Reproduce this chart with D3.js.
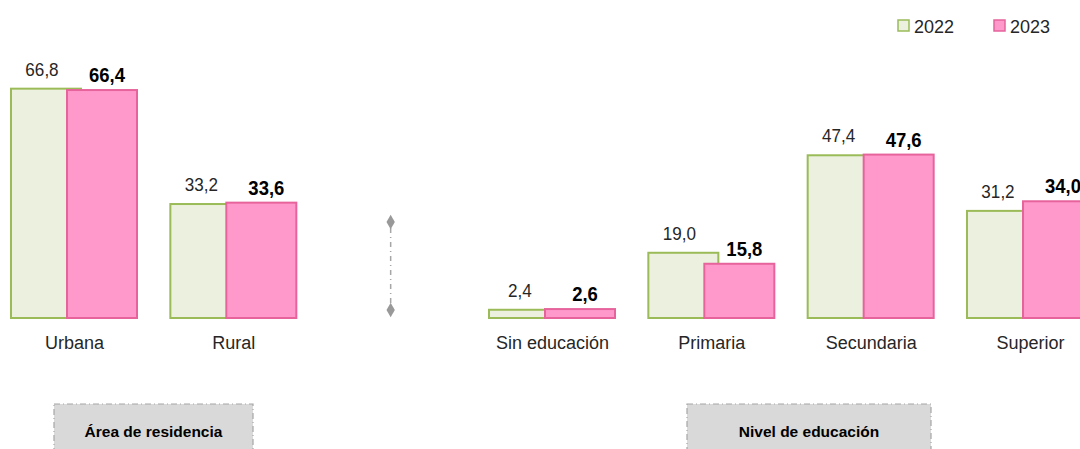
<!DOCTYPE html>
<html><head><meta charset="utf-8">
<script src="https://cdn.jsdelivr.net/npm/d3@7"></script>
<style>
html,body{margin:0;padding:0;background:#fff;}
svg{display:block;}
</style></head>
<body>
<svg id="chart" width="1080" height="449"></svg>
<script>
const categories = ["Urbana", "Rural", "Sin educación", "Primaria", "Secundaria", "Superior"];
const slots = ["Urbana", "Rural", "__sep__", "Sin educación", "Primaria", "Secundaria", "Superior"];
const values2022 = [66.8, 33.2, 2.4, 19.0, 47.4, 31.2];
const values2023 = [66.4, 33.6, 2.6, 15.8, 47.6, 34.0];
const seriesNames = ["2022", "2023"];
const groupLabels = ["Área de residencia", "Nivel de educación"];
const labelFmt = v => d3.format(".1f")(v).replace(".", ",");

const svg = d3.select("#chart");
const font = "'Liberation Sans Narrow','Arial Narrow','Liberation Sans',Arial,sans-serif";

const x = d3.scalePoint().domain(slots).range([74, 1030]);
const y = d3.scaleLinear().domain([0, 80]).range([318, 318 - 80 * 3.433]);

const barW = 70;
const c2022 = {fill: "#ebf1de", stroke: "#9bbb59"};
const c2023 = {fill: "#ff99cc", stroke: "#e6639c"};

const data = categories.map((c, i) => ({cat: c, v22: values2022[i], v23: values2023[i]}));

// 2022 bars (behind)
svg.append("g").selectAll("rect").data(data).join("rect")
  .attr("x", d => x(d.cat) - 63)
  .attr("y", d => y(d.v22))
  .attr("width", barW)
  .attr("height", d => y(0) - y(d.v22))
  .attr("fill", c2022.fill).attr("stroke", c2022.stroke).attr("stroke-width", 2);

// 2023 bars
svg.append("g").selectAll("rect").data(data).join("rect")
  .attr("x", d => x(d.cat) - 7)
  .attr("y", d => y(d.v23))
  .attr("width", barW)
  .attr("height", d => y(0) - y(d.v23))
  .attr("fill", c2023.fill).attr("stroke", c2023.stroke).attr("stroke-width", 2);

// value labels
svg.append("g").selectAll("text").data(data).join("text")
  .attr("transform", d => `translate(${x(d.cat) - 32},${y(d.v22) - 13}) scale(0.95,1)`)
  .attr("text-anchor", "middle")
  .attr("font-family", font).attr("font-size", 18).attr("fill", "#262626")
  .text(d => labelFmt(d.v22));

svg.append("g").selectAll("text").data(data).join("text")
  .attr("transform", d => `translate(${x(d.cat) + 33},${y(d.v23) - 8}) scale(0.88,1)`)
  .attr("text-anchor", "middle")
  .attr("font-family", font).attr("font-size", 21).attr("font-weight", "bold").attr("fill", "#000")
  .text(d => labelFmt(d.v23));

// category axis labels
const xAxis = d3.axisBottom(x).tickSize(0).tickPadding(0)
  .tickFormat(d => d === "__sep__" ? "" : d);
const gx = svg.append("g").attr("transform", "translate(0,336)").call(xAxis);
gx.select(".domain").remove();
gx.selectAll("text").attr("font-family", font).attr("font-size", 18).attr("fill", "#262626");

// separator
const sx = x("__sep__") - 2;
svg.append("line").attr("x1", sx).attr("x2", sx).attr("y1", 228).attr("y2", 304)
  .attr("stroke", "#a6a6a6").attr("stroke-width", 1.5).attr("stroke-dasharray", "5,4,1,4");
[222, 310].forEach(cy => {
  svg.append("path").attr("d", d3.symbol(d3.symbolDiamond, 60)())
    .attr("transform", `translate(${sx},${cy})`).attr("fill", "#999");
});

// group boxes
const boxes = [
  {label: groupLabels[0], x0: 54, x1: 253},
  {label: groupLabels[1], x0: 687, x1: 931}
];
boxes.forEach(b => {
  svg.append("rect").attr("x", b.x0).attr("y", 404).attr("width", b.x1 - b.x0).attr("height", 60)
    .attr("fill", "#d9d9d9").attr("stroke", "#a6a6a6").attr("stroke-width", 1.2)
    .attr("stroke-dasharray", "6,3,1,3");
  svg.append("text").attr("x", (b.x0 + b.x1) / 2).attr("y", 437)
    .attr("text-anchor", "middle").attr("font-family", font).attr("font-size", 15.5)
    .attr("font-weight", "bold").attr("fill", "#000").text(b.label);
});

// legend
const legend = [
  {name: seriesNames[0], c: c2022, x: 898},
  {name: seriesNames[1], c: c2023, x: 994}
];
legend.forEach(l => {
  svg.append("rect").attr("x", l.x).attr("y", 20).attr("width", 11).attr("height", 11)
    .attr("fill", l.c.fill).attr("stroke", l.c.stroke).attr("stroke-width", 1.5);
  svg.append("text").attr("x", l.x + 16).attr("y", 33)
    .attr("font-family", font).attr("font-size", 18).attr("fill", "#262626").text(l.name);
});
</script>
</body></html>
